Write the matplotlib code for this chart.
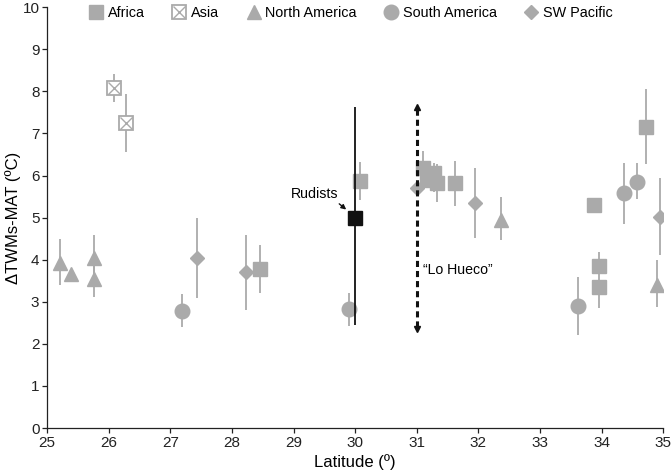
import numpy as np
import matplotlib
matplotlib.use("Agg")
import matplotlib.pyplot as plt
from matplotlib.legend_handler import HandlerTuple

plt.rcParams['font.family'] = ['Liberation Sans', 'DejaVu Sans']

# region data: latitude, value, lower / upper end of the error bar
africa_lat = [28.46, 30.08, 31.10, 31.28, 31.17, 31.33, 31.62, 33.88, 34.72, 33.96, 33.96]
africa_val = [3.78, 5.87, 6.18, 6.05, 5.89, 5.82, 5.82, 5.30, 7.15, 3.85, 3.35]
africa_lo = [3.21, 5.42, 5.80, 5.60, 5.89, 5.37, 5.27, 5.30, 6.27, 3.60, 2.85]
africa_hi = [4.35, 6.32, 6.58, 6.30, 5.89, 6.27, 6.34, 5.30, 8.05, 4.18, 3.60]

asia_lat = [26.09, 26.28]
asia_val = [8.07, 7.24]
asia_lo = [7.74, 6.56]
asia_hi = [8.41, 7.93]

namerica_lat = [25.21, 25.39, 25.76, 25.76, 32.37, 34.90]
namerica_val = [3.92, 3.66, 4.04, 3.54, 4.94, 3.40]
namerica_lo = [3.40, 3.66, 3.50, 3.11, 4.47, 2.87]
namerica_hi = [4.49, 3.66, 4.58, 4.00, 5.49, 3.99]

samerica_lat = [27.19, 29.90, 33.62, 34.37, 34.58]
samerica_val = [2.78, 2.83, 2.90, 5.58, 5.85]
samerica_lo = [2.40, 2.42, 2.21, 4.85, 5.44]
samerica_hi = [3.18, 3.21, 3.59, 6.29, 6.29]

swpac_lat = [27.44, 28.23, 31.00, 31.95, 34.94]
swpac_val = [4.04, 3.71, 5.71, 5.34, 5.02]
swpac_lo = [3.09, 2.80, 5.71, 4.51, 4.11]
swpac_hi = [4.99, 4.59, 5.71, 6.17, 5.93]

rudists_lat = [30.0]
rudists_val = [5.0]
rudists_lo = [2.45]
rudists_hi = [7.62]

lo_hueco_lat = 31.0
lo_hueco_range = (2.28, 7.72)

GRAY = '#aaaaaa'


def yerr(val, lo, hi):
    val = np.asarray(val)
    return [val - np.asarray(lo), np.asarray(hi) - val]


fig = plt.figure(figsize=(6.72, 4.76), dpi=100)
ax = fig.add_axes([0.070, 0.1008, 0.917, 0.884])

kw = dict(ls='none', ecolor=GRAY, elinewidth=1.3, capsize=0)

h_af = ax.errorbar(africa_lat, africa_val, yerr=yerr(africa_val, africa_lo, africa_hi),
                   marker='s', ms=9.5, mfc=GRAY, mec=GRAY, **kw)
h_as = ax.errorbar(asia_lat, asia_val, yerr=yerr(asia_val, asia_lo, asia_hi),
                   marker='s', ms=9.5, mfc='white', mec=GRAY, mew=1.3, **kw)
h_asx, = ax.plot(asia_lat, asia_val, ls='none', marker='x', ms=8.0, mec=GRAY, mew=1.0,
                 zorder=4)
h_na = ax.errorbar(namerica_lat, namerica_val, yerr=yerr(namerica_val, namerica_lo, namerica_hi),
                   marker='^', ms=10.5, mfc=GRAY, mec=GRAY, **kw)
h_sa = ax.errorbar(samerica_lat, samerica_val, yerr=yerr(samerica_val, samerica_lo, samerica_hi),
                   marker='o', ms=10.5, mfc=GRAY, mec=GRAY, **kw)
h_sw = ax.errorbar(swpac_lat, swpac_val, yerr=yerr(swpac_val, swpac_lo, swpac_hi),
                   marker='D', ms=7, mfc=GRAY, mec=GRAY, **kw)

ax.errorbar(rudists_lat, rudists_val, yerr=yerr(rudists_val, rudists_lo, rudists_hi),
            ls='none', marker='s', ms=10, mfc='#111111', mec='#111111',
            ecolor='#111111', elinewidth=1.3, capsize=0, zorder=5)
ax.annotate('Rudists', xy=(29.89, 5.15), xytext=(29.34, 5.56), ha='center', va='center',
            fontsize=10.2,
            arrowprops=dict(arrowstyle='-|>', color='#111111', lw=1.0, mutation_scale=7,
                            relpos=(0.95, 0.0), shrinkA=0, shrinkB=2))

# "Lo Hueco" dashed double arrow
ax.plot([lo_hueco_lat, lo_hueco_lat], [lo_hueco_range[0] + 0.12, lo_hueco_range[1] - 0.12],
        color='#111111', lw=2.2, dashes=(2.0, 1.3), zorder=6)
ax.plot([lo_hueco_lat], [lo_hueco_range[1] - 0.08], marker='^', ms=5, color='#111111', zorder=6)
ax.plot([lo_hueco_lat], [lo_hueco_range[0] + 0.08], marker='v', ms=5, color='#111111', zorder=6)
ax.text(31.1, 3.75, '\u201cLo Hueco\u201d', ha='left', va='center', fontsize=10.2)

ax.set_xlim(25, 35)
ax.set_ylim(0, 10)
ax.set_xticks(np.arange(25, 36, 1))
ax.set_yticks(np.arange(0, 11, 1))
ax.tick_params(direction='out', length=3.5, width=0.9, labelsize=11, colors='#222222',
               pad=2)
for s in ['top', 'right']:
    ax.spines[s].set_visible(False)
for s in ['left', 'bottom']:
    ax.spines[s].set_linewidth(0.9)
    ax.spines[s].set_color('#222222')
ax.set_xlabel('Latitude (\u00ba)', fontsize=12, labelpad=3)
ax.set_ylabel('\u0394TWMs-MAT (\u00baC)', fontsize=12, labelpad=1)

handles = [h_af[0], (h_as[0], h_asx), h_na[0], h_sa[0], h_sw[0]]
labels = ['Africa', 'Asia', 'North America', 'South America', 'SW Pacific']
fig.legend(handles, labels, loc='center', bbox_to_anchor=(0.522, 0.972), ncol=5,
           frameon=False, fontsize=10.4, handletextpad=0.3, columnspacing=1.9,
           handlelength=1.0, handler_map={tuple: HandlerTuple(ndivide=1)})

fig.savefig('out.png', dpi=100)
